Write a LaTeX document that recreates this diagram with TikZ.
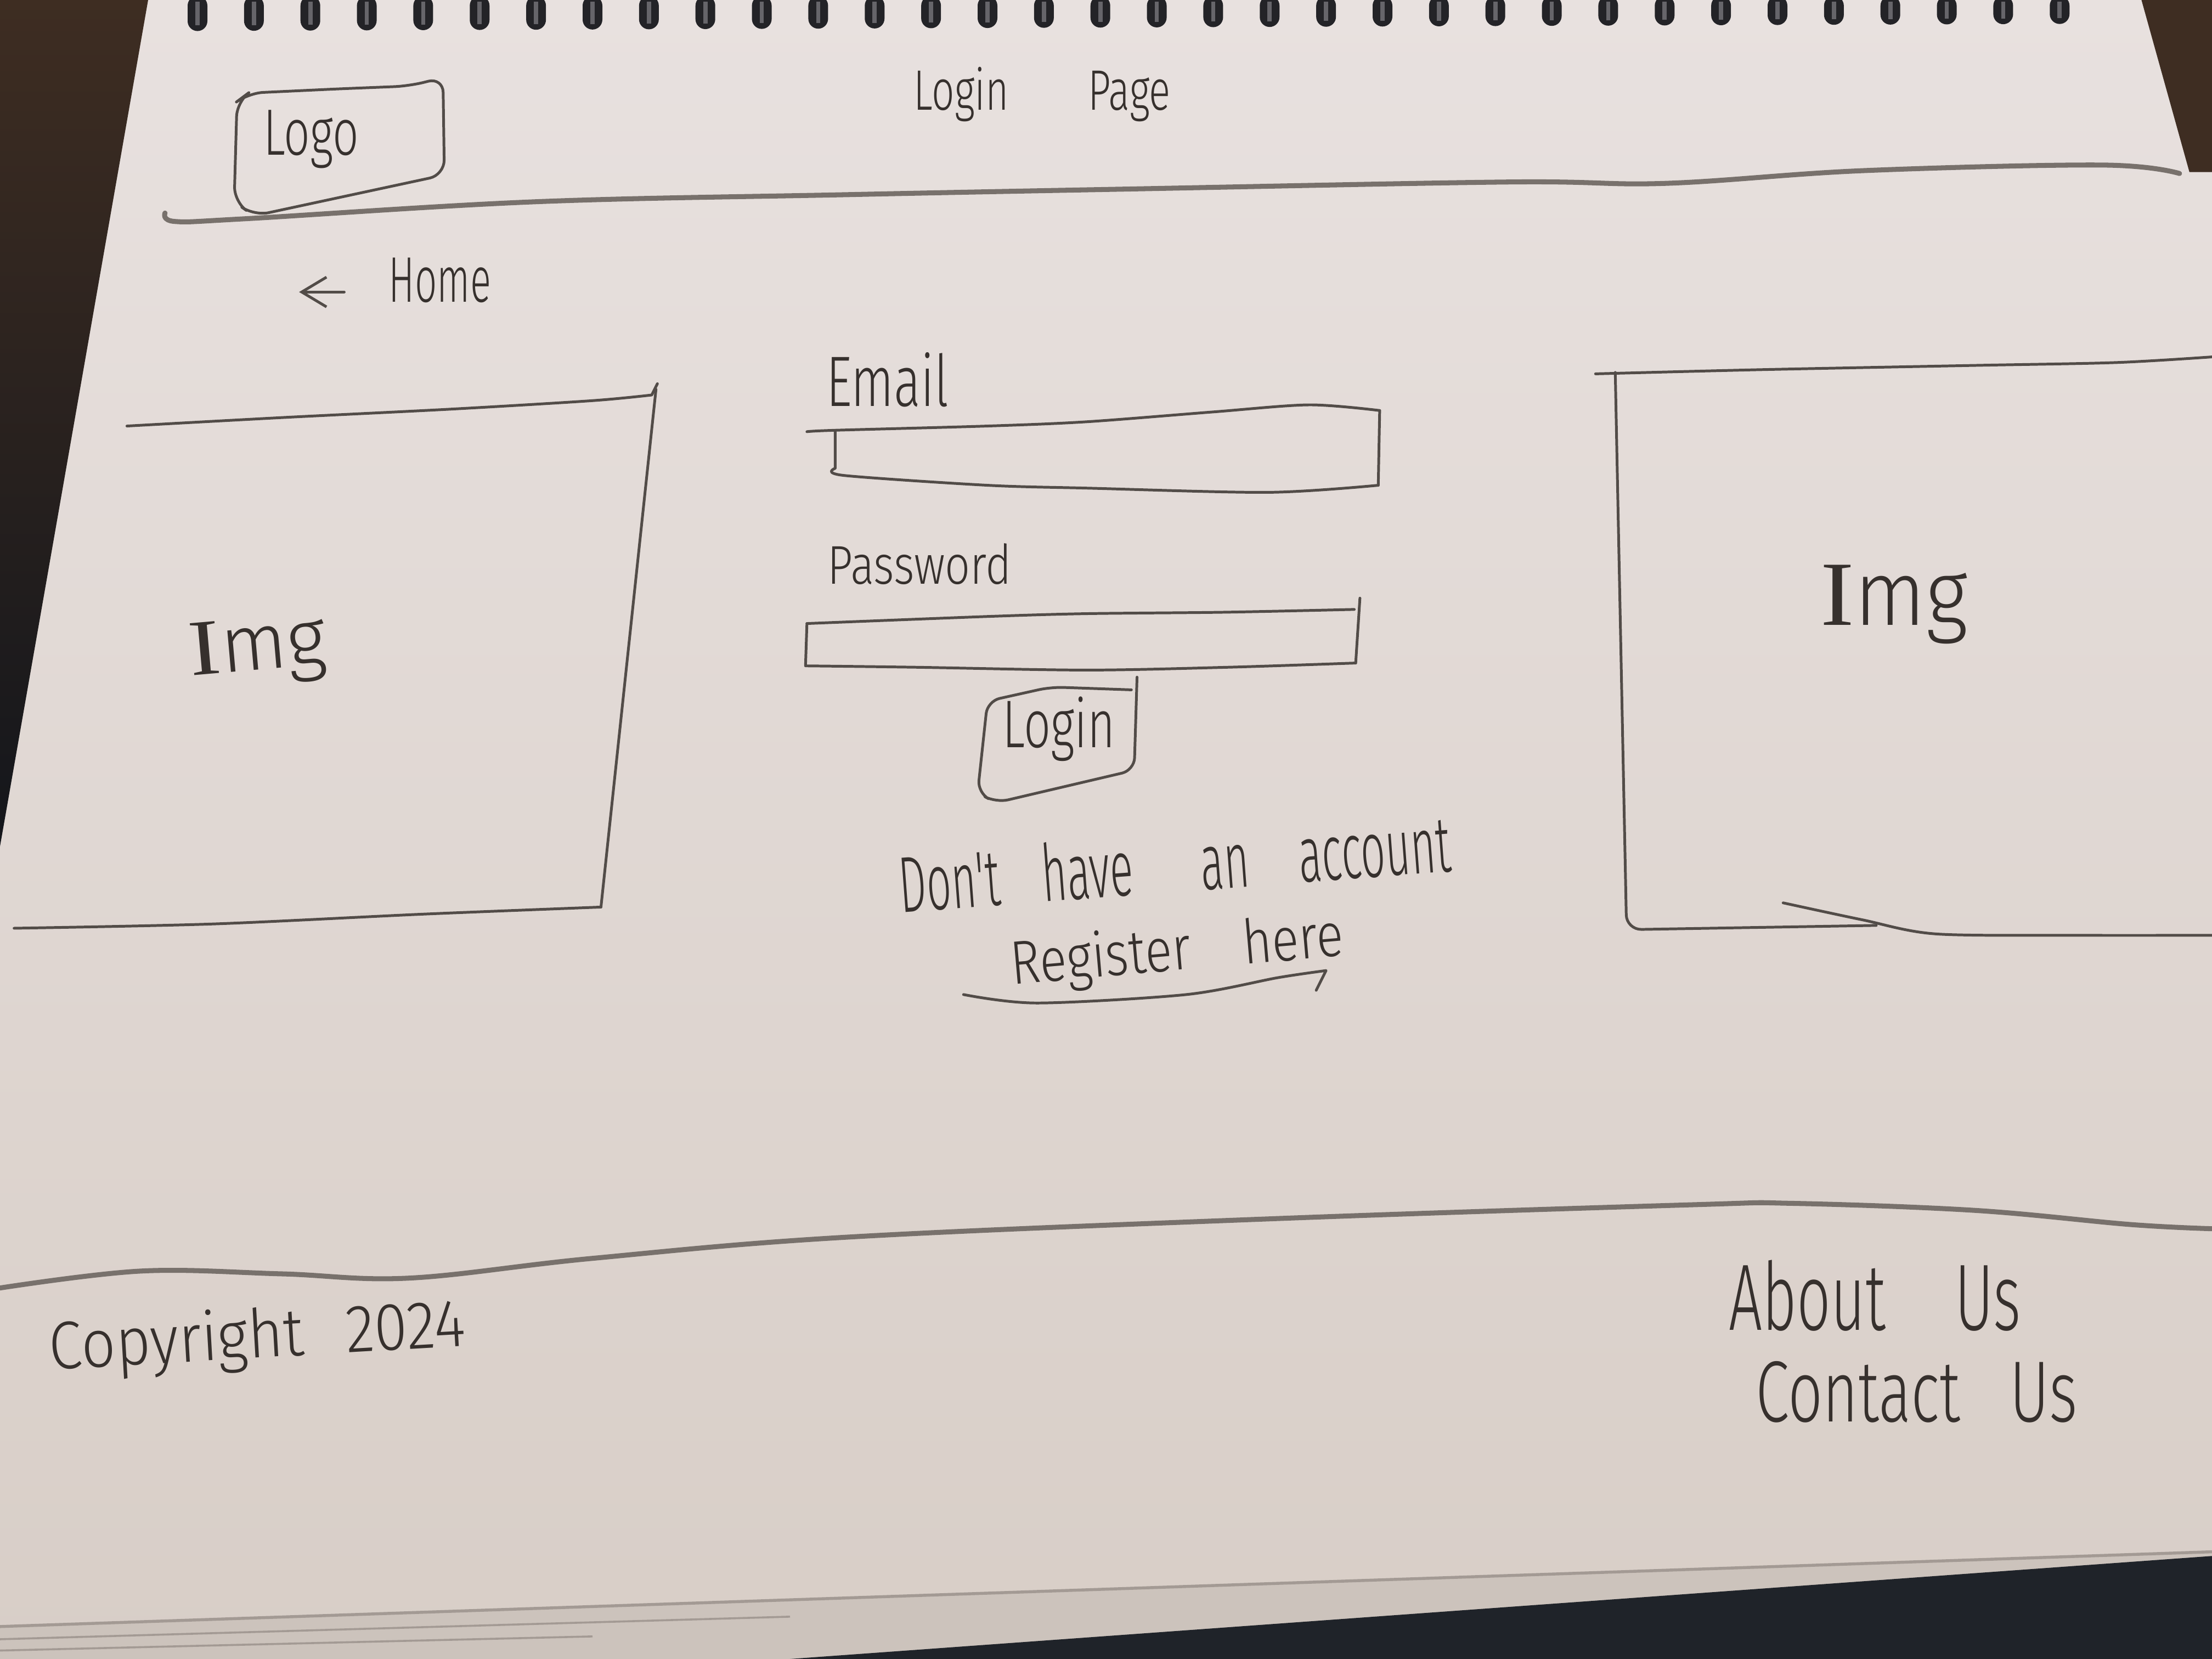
\documentclass[tikz,border=0pt]{standalone}
\usepackage{fontspec}
\usepackage{graphicx}
\usetikzlibrary{arrows.meta}
\newfontfamily\hand{Fira Sans}[UprightFont=* Light, FakeStretch=0.7]
\newfontfamily\handI{Liberation Serif}[FakeStretch=0.85]
\definecolor{paperTop}{HTML}{E8E1DF}
\definecolor{paperBot}{HTML}{D8CEC7}
\definecolor{ink}{HTML}{36302D}
\definecolor{lead}{HTML}{524C48}
\definecolor{softlead}{HTML}{78716C}
\definecolor{deskTop}{HTML}{3E2D22}
\definecolor{deskBot}{HTML}{14161B}
\definecolor{cloth}{HTML}{1F2329}
\definecolor{coil}{HTML}{232327}
\definecolor{coilhi}{HTML}{66656A}
\definecolor{pageedge}{HTML}{A39A94}
\definecolor{stack}{HTML}{CCC3BC}
\begin{document}
\begin{tikzpicture}[x=0.01cm,y=-0.01cm,
  pencil/.style={draw=lead, line width=0.55pt, line cap=round, line join=round},
  rule/.style={draw=softlead, line width=1pt, line cap=round, line join=round},
  hw/.style={font=\hand\fontsize{#1}{#1}\selectfont, text=ink, inner sep=0pt, anchor=base west},
]
\useasboundingbox (0,0) rectangle (1568,1176);

% sheet of paper
\shade[top color=paperTop, bottom color=paperBot] (0,0) rectangle (1568,1176);

% desk showing round the sheet
\shade[top color=deskTop, bottom color=deskBot] (0,0) -- (105,0) -- (0,600) -- cycle;
\fill[deskTop] (1518,0) -- (1568,0) -- (1568,122) -- (1552,122) -- cycle;
\fill[stack] (0,1153) -- (1568,1100) -- (1568,1176) -- (0,1176) -- cycle;
\fill[cloth] (560,1176) -- (1568,1103) -- (1568,1176) -- cycle;
\draw[pageedge, line width=0.6pt] (0,1153) -- (1568,1100);
\draw[pageedge, line width=0.4pt] (0,1162) -- (560,1146);
\draw[pageedge, line width=0.4pt] (0,1170) -- (420,1160);

% spiral binding
\foreach \i in {0,...,33} {
  \pgfmathsetmacro{\xx}{140+40*\i}
  \pgfmathsetmacro{\hh}{22-5*\i/33}
  \fill[coil, rounded corners=2] (\xx-7,-3) rectangle (\xx+7,\hh);
  \fill[coilhi] (\xx-1.5,1) rectangle (\xx+1.5,\hh-4);
}

% header band
\draw[rule] plot[smooth, tension=0.6] coordinates {(117,151) (124,157) (175,155) (380,143) (600,138) (800,134) (1070,129) (1180,130) (1320,121) (1490,117) (1545,123)};
\draw[pencil, rounded corners=3pt] (180,153) -- (166,143) -- (168,72) -- (176,66) -- (240,63) -- (290,61) -- (314,55) -- (315,124) -- cycle;
\node[hw=13.2] (logo) at (186,110) {Logo};
\node[hw=11.5] (title) at (647,78) {Login\hspace{16pt}Page};

% back link
\node[hw=13] (home) at (275,214) {\scalebox{0.86}[1]{Home}};
\coordinate (homeTail) at (244,207);
\coordinate (homeTip) at (212,207);
\draw[pencil, -{Straight Barb[length=5pt,width=6pt]}] (homeTail) -- (homeTip);

% left picture frame
\draw[pencil] plot[smooth] coordinates {(90,302) (200,296) (320,290) (420,284) (462,280)} -- (466,272);
\draw[pencil] (465,276) -- (426,643);
\draw[pencil] plot[smooth] coordinates {(10,658) (150,655) (300,648) (426,643)};
\node[hw=16, rotate=5] (imgL) at (135,479) {\scalebox{1.4}[1]{{\handI I}mg}};

% right picture frame
\draw[pencil] plot[smooth] coordinates {(1131,265) (1250,262) (1401,259) (1500,257) (1568,253)};
\draw[pencil, rounded corners=3pt] (1145,264) -- (1153,659) -- (1330,656);
\draw[pencil] plot[smooth] coordinates {(1264,640) (1320,652) (1372,662) (1470,663) (1568,663)};
\node[hw=18.5] (imgR) at (1290,443) {\scalebox{1.3}[1]{{\handI I}mg}};

% login form
\node[hw=14.4] (email) at (585,288) {Email};
\draw[pencil] plot[smooth] coordinates {(572,306) (592,305) (700,302) (770,299) (860,292) (928,287) (978,291)};
\draw[pencil] (978,291) -- (977,344);
\draw[pencil] (592,305) -- (592,332) plot[smooth] coordinates {(592,332) (598,337) (700,344) (770,346) (899,349) (977,344)};

\node[hw=11] (password) at (586,414) {\scalebox{1.16}[1]{Password}};
\draw[pencil] plot[smooth] coordinates {(572,442) (700,437) (770,435) (867,434) (960,432)};
\draw[pencil] (964,424) -- (961,470);
\draw[pencil] plot[smooth] coordinates {(961,470) (870,473) (770,475) (650,473) (571,472)} -- (572,442);

\draw[pencil, rounded corners=2.5pt] (806,480) -- (804,546) -- (706,569) -- (693,562) -- (700,497) -- (745,487) -- (802,489);
\node[hw=13.6] (loginbtn) at (710,530) {Login};

\node[hw=16, rotate=4.3] (noacct) at (638,647) {\scalebox{0.78}[1]{Don't\hspace{10.9pt}have\hspace{17.5pt}an\hspace{12.8pt}account}};
\node[hw=12.4, rotate=5] (register) at (717,698) {\scalebox{1.17}[1]{Register\hspace{9pt}here}};
\draw[pencil] plot[smooth] coordinates {(683,705) (735,711) (841,705) (906,693) (940,688)} -- (933,702);

% footer band
\draw[rule] plot[smooth, tension=0.6] coordinates {(0,913) (100,901) (200,903) (290,906) (420,892) (600,877) (900,864) (1200,854) (1270,853) (1400,858) (1510,868) (1568,871)};
\node[hw=13.6, rotate=3.3] (copyright) at (35,971) {\scalebox{1.28}[1]{Copyright\hspace{6.6pt}2024}};
\node[hw=19] (about) at (1225,943) {\scalebox{0.9}[1]{About\hspace{15.5pt}Us}};
\node[hw=17.5] (contact) at (1244,1008) {\scalebox{1.0}[1]{Contact\hspace{10pt}Us}};
\end{tikzpicture}
\end{document}
